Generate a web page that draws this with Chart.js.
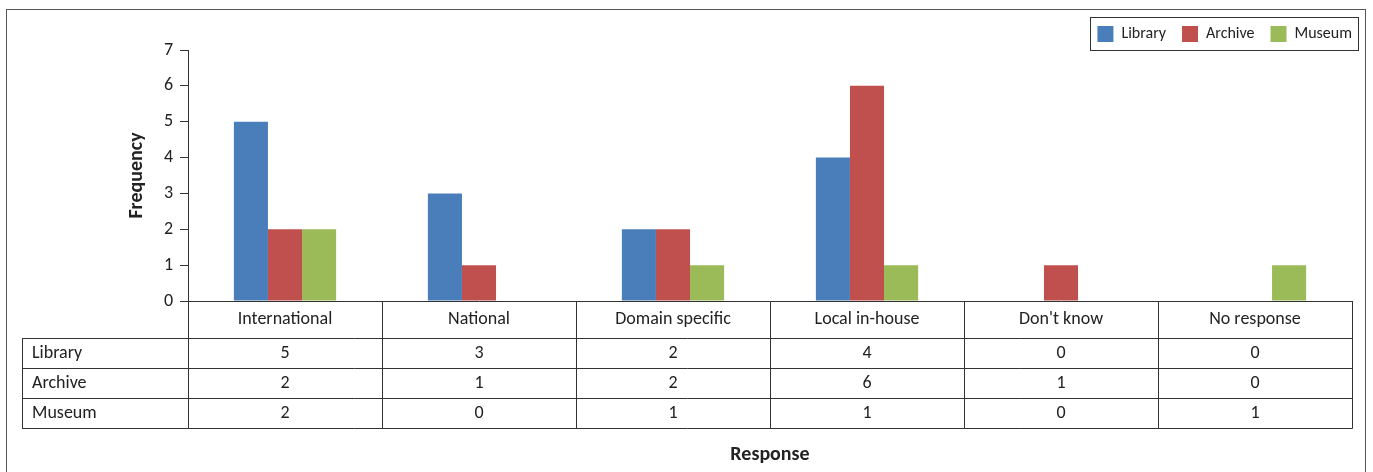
<!DOCTYPE html>
<html>
<head>
<meta charset="utf-8">
<script src="https://cdn.jsdelivr.net/npm/chart.js@4/dist/chart.umd.min.js"></script>
<style>
  html, body { margin: 0; padding: 0; background: #fff; }
  #wrap { width: 1373px; height: 472px; position: relative; }
</style>
</head>
<body>
<div id="wrap"><canvas id="myChart"></canvas></div>
<script>
// responses and counts per institution type
const responses = ["International", "National", "Domain specific", "Local in-house", "Don't know", "No response"];
const library = [5, 3, 2, 4, 0, 0];
const archive = [2, 1, 2, 6, 1, 0];
const museum = [2, 0, 1, 1, 0, 1];
const yTicks = [0, 1, 2, 3, 4, 5, 6, 7];

const FONT = "Carlito, Lato, 'Noto Sans', sans-serif";
const LINE = '#333';
const TEXT = '#222';

const series = [
    { label: "Library", data: library, color: '#4A7EBB' },
    { label: "Archive", data: archive, color: '#C0504D' },
    { label: "Museum", data: museum, color: '#9BBB59' }
];

// outer frame of the figure
const frame = {
    id: 'frame',
    beforeDraw(chart) {
        const ctx = chart.ctx;
        ctx.save();
        ctx.strokeStyle = '#555';
        ctx.lineWidth = 1;
        ctx.strokeRect(6.5, 9.5, 1359, 500);
        ctx.restore();
    }
};

// push the legend to the right edge and draw a box round it
const legendBox = {
    id: 'legendBox',
    afterUpdate(chart) {
        const lg = chart.legend;
        lg.left += 16;
        lg.right += 16;
    },
    afterDraw(chart) {
        const lg = chart.legend;
        const pad = lg.options.labels.padding;
        const startX = lg.right - lg.lineWidths[0];
        const endX = lg.right - pad;
        const ctx = chart.ctx;
        ctx.save();
        ctx.strokeStyle = LINE;
        ctx.lineWidth = 1;
        ctx.strokeRect(Math.round(startX - 7) + 0.5, lg.top + 7.5, Math.round(endX - startX + 13), 33);
        ctx.restore();
    }
};

// data table under the x axis
const dataTable = {
    id: 'dataTable',
    afterDraw(chart) {
        const ctx = chart.ctx;
        const x = chart.scales.x;
        const top = chart.chartArea.bottom;
        const half = (x.getPixelForValue(1) - x.getPixelForValue(0)) / 2;
        const edges = responses.map((_, i) => x.getPixelForValue(i) - half);
        edges.push(x.getPixelForValue(responses.length - 1) + half);
        const headerBottom = top + 37;
        const rowH = 30;
        const tableLeft = 22;
        const tableBottom = headerBottom + rowH * series.length;
        const crisp = v => Math.round(v) + 0.5;

        ctx.save();
        ctx.strokeStyle = LINE;
        ctx.lineWidth = 1;
        ctx.beginPath();
        for (let r = 0; r <= series.length; r++) {
            const y = crisp(headerBottom + r * rowH);
            ctx.moveTo(tableLeft, y);
            ctx.lineTo(crisp(edges[edges.length - 1]), y);
        }
        ctx.moveTo(crisp(tableLeft), crisp(headerBottom));
        ctx.lineTo(crisp(tableLeft), crisp(tableBottom));
        edges.forEach(e => {
            ctx.moveTo(crisp(e), crisp(top));
            ctx.lineTo(crisp(e), crisp(tableBottom));
        });
        ctx.stroke();

        ctx.fillStyle = TEXT;
        ctx.font = '18px ' + FONT;
        ctx.textBaseline = 'middle';
        series.forEach((s, r) => {
            const y = headerBottom + r * rowH + rowH / 2;
            ctx.textAlign = 'left';
            ctx.fillText(s.label, 32, y);
            ctx.textAlign = 'center';
            s.data.forEach((v, i) => ctx.fillText(String(v), x.getPixelForValue(i), y));
        });
        ctx.restore();
    }
};

new Chart(document.getElementById('myChart'), {
    type: 'bar',
    data: {
        labels: responses,
        datasets: series.map(s => ({
            label: s.label,
            data: s.data,
            backgroundColor: s.color,
            borderWidth: 0,
            categoryPercentage: 0.527,
            barPercentage: 1
        }))
    },
    options: {
        responsive: true,
        maintainAspectRatio: false,
        animation: false,
        layout: { padding: { left: 125, right: 21, top: 10, bottom: 0 } },
        plugins: {
            tooltip: { enabled: false },
            legend: {
                position: 'top',
                align: 'end',
                maxHeight: 40,
                labels: {
                    boxWidth: 16,
                    boxHeight: 16,
                    padding: 16,
                    color: TEXT,
                    font: { family: FONT, size: 16 }
                }
            }
        },
        scales: {
            x: {
                afterFit(scale) { scale.height = 171; },
                grid: { display: false, drawTicks: false },
                border: { display: true, color: LINE, width: 1 },
                ticks: { color: TEXT, padding: 8, font: { family: FONT, size: 18 }, maxRotation: 0 },
                title: {
                    display: true,
                    text: 'Response',
                    color: TEXT,
                    padding: { top: 0, bottom: 5 },
                    font: { family: FONT, size: 20, weight: 'bold' }
                }
            },
            y: {
                min: 0,
                max: 7,
                afterFit(scale) { scale.width = 63; },
                afterBuildTicks(scale) { scale.ticks = yTicks.map(v => ({ value: v })); },
                grid: { display: true, drawOnChartArea: false, drawTicks: true, tickLength: 8, color: LINE },
                border: { display: true, color: LINE, width: 1 },
                ticks: { color: TEXT, padding: 7, font: { family: FONT, size: 18 } },
                title: {
                    display: true,
                    text: 'Frequency',
                    color: TEXT,
                    padding: { top: 0, bottom: 0 },
                    font: { family: FONT, size: 20, weight: 'bold' }
                }
            }
        }
    },
    plugins: [frame, legendBox, dataTable]
});
</script>
</body>
</html>
